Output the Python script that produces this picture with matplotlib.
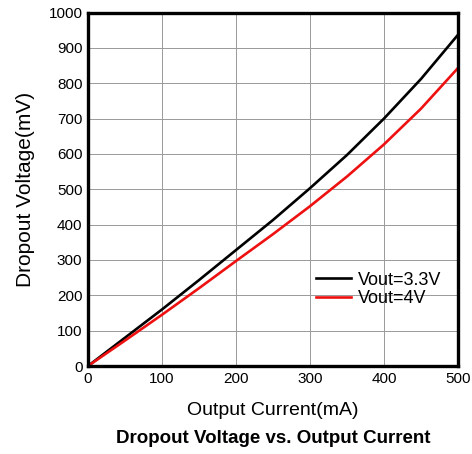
import numpy as np
import matplotlib
matplotlib.use("Agg")
import matplotlib.pyplot as plt

# data
current_ma = [0, 50, 100, 150, 200, 250, 300, 350, 400, 450, 500]
dropout_33 = [0, 80, 160, 243, 328, 413, 503, 597, 700, 812, 937]
dropout_4 = [0, 72, 145, 220, 297, 373, 452, 536, 627, 728, 843]

plt.rcParams['font.family'] = ['Liberation Sans', 'DejaVu Sans']

fig = plt.figure(figsize=(4.72, 4.54), dpi=100)
ax = fig.add_axes([88 / 472, 1 - 366 / 454, 370 / 472, 353.5 / 454])

ax.plot(current_ma, dropout_33, color='black', lw=1.9, label='Vout=3.3V')
ax.plot(current_ma, dropout_4, color='#ee1111', lw=1.9, label='Vout=4V')

ax.set_xlim(0, 500)
ax.set_ylim(0, 1000)
ax.set_xticks(np.arange(0, 501, 100))
ax.set_yticks(np.arange(0, 1001, 100))
ax.grid(True, color='#999999', lw=0.7)
ax.set_axisbelow(True)
ax.tick_params(length=0, labelsize=11, pad=4)
for s in ax.spines.values():
    s.set_linewidth(2.4)

ax.set_xlabel('Output Current(mA)', fontsize=14, labelpad=12)
ax.set_ylabel('Dropout Voltage(mV)', fontsize=15, labelpad=10)

leg = ax.legend(loc='lower right', bbox_to_anchor=(1.0, 0.12), frameon=False,
                fontsize=13, handlelength=1.95, handletextpad=0.4, labelspacing=0.1)

fig.text(0.579, 0.035, 'Dropout Voltage vs. Output Current', ha='center', va='center',
         fontsize=13.5, fontweight='bold')

fig.savefig('out.png', dpi=100)
